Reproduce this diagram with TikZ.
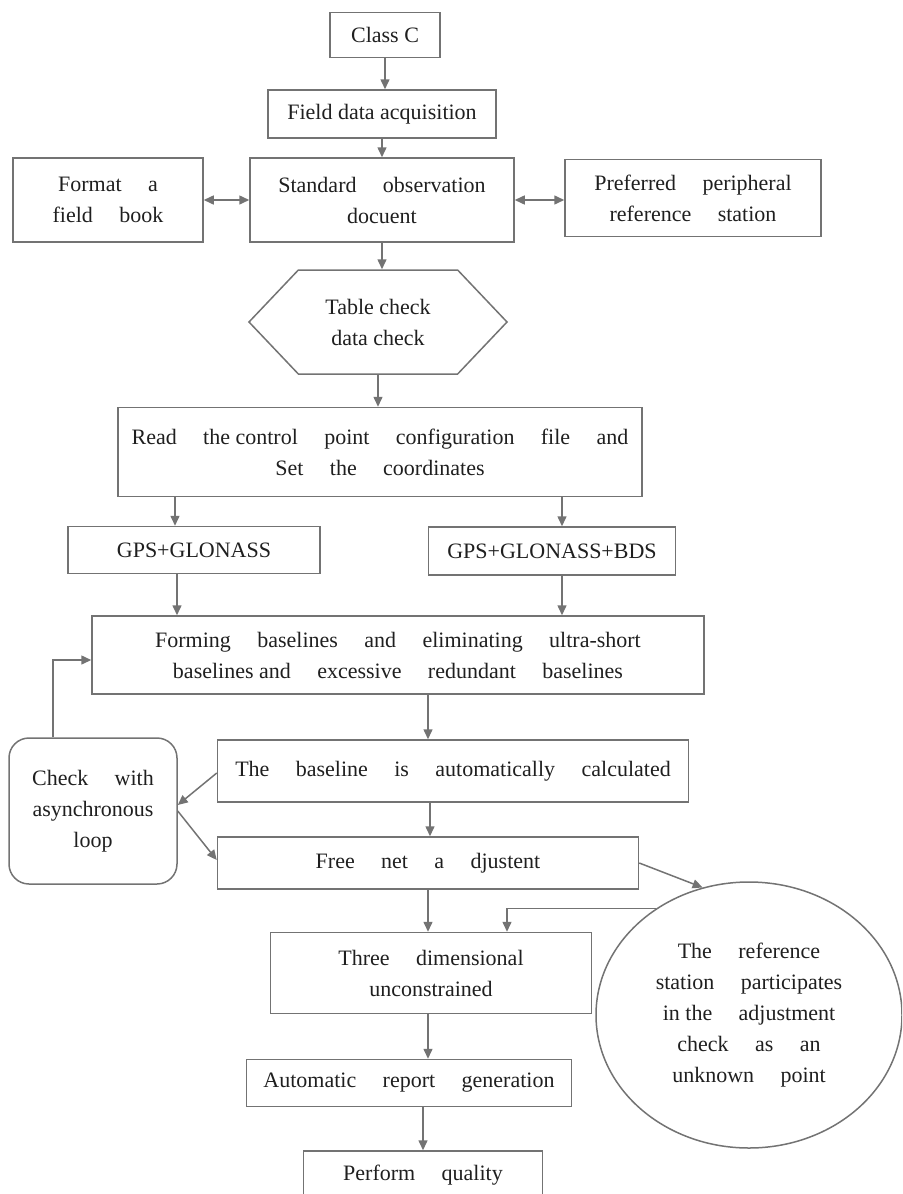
\documentclass[tikz,border=0pt]{standalone}
\usepackage{fontspec}
\setmainfont{Liberation Serif}
\usetikzlibrary{arrows.meta,shapes.geometric,shapes.symbols}
\definecolor{linegray}{HTML}{737373}
\definecolor{inkgray}{HTML}{1F1F1F}
\newcommand{\ns}{\hspace{0.25em}}

\begin{document}
\begin{tikzpicture}[x=0.5pt,y=-0.5pt,
  every node/.style={inner sep=0pt, text=inkgray, align=center,
    font=\fontsize{11}{15.5}\selectfont},
  box/.style={draw=linegray, line width=0.75pt},
  wide/.style={execute at begin node={\spaceskip=1.2em plus 0.3em\relax}},
  arr/.style={draw=linegray, line width=0.75pt, -{Triangle[length=5pt,width=4.5pt]}},
  darr/.style={draw=linegray, line width=0.75pt, {Triangle[length=5pt,width=4.5pt]}-{Triangle[length=5pt,width=4.5pt]}}]
\useasboundingbox (0,0) rectangle (902,1194);
\clip (0,0) rectangle (902,1194);
% top part
\node [box, minimum width=55pt, minimum height=22.5pt] (classc) at (385,35) {Class C};
\node [box, minimum width=114pt, minimum height=24pt] (field) at (382,114) {Field data acquisition};
\node [box, wide, minimum width=132pt, minimum height=42pt] (standard) at (382,200) {Standard observation\\docuent};
\node [box, wide, minimum width=95pt, minimum height=42pt] (fieldbook) at (108,200) {Format a\\field book};
\node [box, wide, minimum width=128pt, minimum height=38.5pt] (preferred) at (693,198) {Preferred peripheral\\reference station};
\node [box, shape=signal, signal to=east and west, signal pointer angle=93,
  minimum width=129pt, minimum height=52pt] (hex) at (378,322) {Table check\\data check};
\node [box, wide, minimum width=262pt, minimum height=44.5pt] (read) at (380,452)
  {Read the\ns control point configuration file and\\Set the coordinates};
\node [box, minimum width=126pt, minimum height=23.5pt] (gps1) at (194,550) {GPS+GLONASS};
\node [box, minimum width=123.5pt, minimum height=24pt] (gps2) at (552,551) {GPS+GLONASS+BDS};
% baselines and adjustment
\node [box, wide, minimum width=306pt, minimum height=39pt] (forming) at (398,655)
  {Forming baselines and eliminating ultra-short\\baselines\ns and excessive redundant baselines};
\node [box, wide, minimum width=235.5pt, minimum height=31pt] (baseline) at (453,771)
  {The baseline is automatically calculated};
\node [box, wide, rounded corners=10pt, minimum width=84pt, minimum height=73pt] (check) at (93,811)
  {Check with\\asynchronous\\loop};
\node [box, wide, minimum width=210.5pt, minimum height=26pt] (freenet) at (428,863) {Free net a djustent};
\node [box, wide, minimum width=160.5pt, minimum height=40.5pt] (three) at (431,973) {Three dimensional\\unconstrained};
\node [box, wide, ellipse, minimum width=153pt, minimum height=133pt] (station) at (749,1015)
  {The reference\\station participates\\in\ns the adjustment\\check as an\\unknown point};
\node [box, wide, minimum width=162.5pt, minimum height=23.5pt] (report) at (409,1083) {Automatic report generation};
\node [box, wide, minimum width=119.5pt, minimum height=24pt] (perform) at (423,1175) {Perform quality};
% connectors
\draw [arr] (classc.south) -- (classc.south |- field.north);
\draw [arr] (field.south) -- (field.south |- standard.north);
\draw [darr] (fieldbook.east) -- (standard.west);
\draw [darr] (standard.east) -- (standard.east -| preferred.west);
\draw [arr] (standard.south) -- (standard.south |- hex.north);
\draw [arr] (hex.south) -- (hex.south |- read.north);
\draw [arr] ([xshift=-9.5pt]gps1.north |- read.south) -- ([xshift=-9.5pt]gps1.north);
\draw [arr] ([xshift=5pt]gps2.north |- read.south) -- ([xshift=5pt]gps2.north);
\draw [arr] ([xshift=-8.5pt]gps1.south) -- ([xshift=-8.5pt]gps1.south |- forming.north);
\draw [arr] ([xshift=5pt]gps2.south) -- ([xshift=5pt]gps2.south |- forming.north);
\draw [arr] ([xshift=-12.5pt]baseline.north |- forming.south) -- ([xshift=-12.5pt]baseline.north);
\draw [arr] ([xshift=-20pt]check.north) |- ([yshift=-2.5pt]forming.west);
\draw [arr] ([yshift=-1pt]baseline.west) -- ([yshift=3pt]check.east);
\draw [arr] ([yshift=0pt]check.east) -- ([yshift=1.5pt]freenet.west);
\draw [arr] ([xshift=-11.5pt]baseline.south) -- ([xshift=-11.5pt]baseline.south |- freenet.north);
\draw [arr] (freenet.east) -- (station.110);
\draw [arr] (station.131) -| ([xshift=38pt]three.north);
\draw [arr] (freenet.south) -- (freenet.south |- three.north);
\draw [arr] ([xshift=-1.5pt]three.south) -- ([xshift=-1.5pt]three.south |- report.north);
\draw [arr] ([xshift=7pt]report.south) -- ([xshift=7pt]report.south |- perform.north);
\end{tikzpicture}
\end{document}
